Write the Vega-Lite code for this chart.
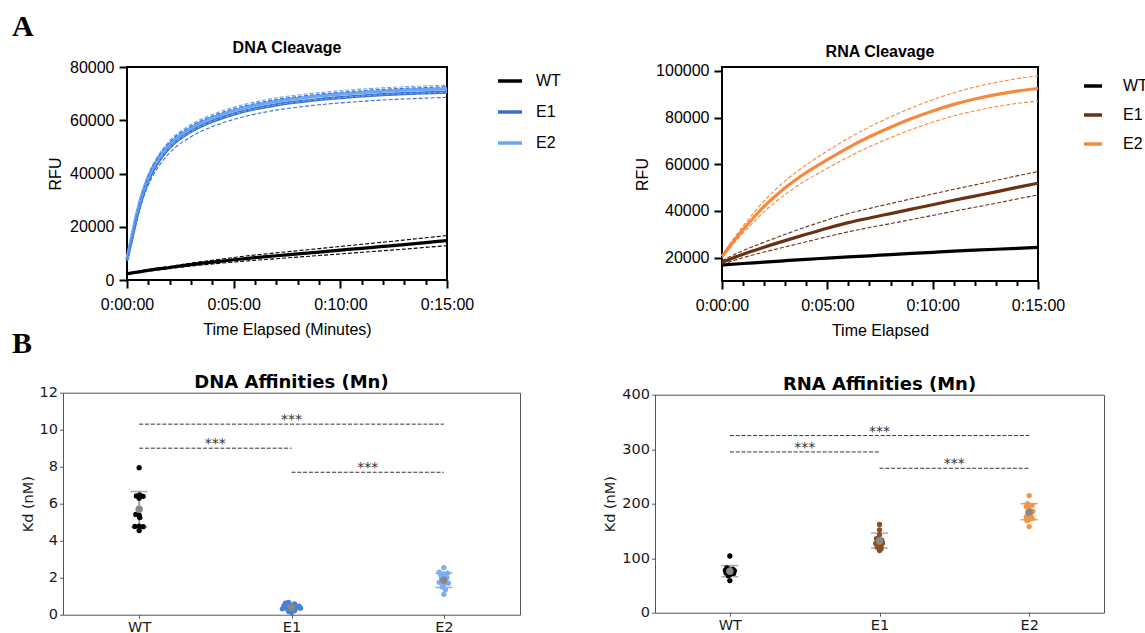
{
  "$schema": "https://vega.github.io/schema/vega-lite/v6.json",
  "background": "white",
  "padding": {"left": 12, "top": 12, "right": 0, "bottom": 0},
  "bounds": "flush",
  "spacing": 325.7,
  "resolve": {"scale": {"color": "independent"}, "legend": {"color": "independent"}},
  "config": {
    "view": {"stroke": null},
    "axis": {"grid": false, "domain": false, "labelOverlap": false, "labelSeparation": 0},
    "title": {"color": "black"}
  },
  "datasets": {
    "dnaCurves": [
      {"series":"WT","t":0,"mean":2300,"lo":2150,"hi":2450},
      {"series":"WT","t":1,"mean":3600,"lo":3320,"hi":3880},
      {"series":"WT","t":2,"mean":4700,"lo":4300,"hi":5100},
      {"series":"WT","t":3,"mean":5800,"lo":5250,"hi":6350},
      {"series":"WT","t":4,"mean":6700,"lo":6000,"hi":7400},
      {"series":"WT","t":5,"mean":7600,"lo":6750,"hi":8450},
      {"series":"WT","t":6,"mean":8400,"lo":7400,"hi":9400},
      {"series":"WT","t":7,"mean":9100,"lo":8000,"hi":10200},
      {"series":"WT","t":8,"mean":9800,"lo":8600,"hi":11000},
      {"series":"WT","t":9,"mean":10500,"lo":9200,"hi":11800},
      {"series":"WT","t":10,"mean":11200,"lo":9800,"hi":12600},
      {"series":"WT","t":11,"mean":11900,"lo":10400,"hi":13400},
      {"series":"WT","t":12,"mean":12600,"lo":11000,"hi":14200},
      {"series":"WT","t":13,"mean":13300,"lo":11600,"hi":15000},
      {"series":"WT","t":14,"mean":14050,"lo":12250,"hi":15850},
      {"series":"WT","t":15,"mean":14800,"lo":12900,"hi":16700},
      {"series":"E1","t":0,"mean":7500,"lo":6900,"hi":8100},
      {"series":"E1","t":0.25,"mean":16300,"lo":15400,"hi":17200},
      {"series":"E1","t":0.5,"mean":25000,"lo":23800,"hi":26200},
      {"series":"E1","t":0.75,"mean":32000,"lo":30500,"hi":33500},
      {"series":"E1","t":1,"mean":37400,"lo":35700,"hi":39100},
      {"series":"E1","t":1.5,"mean":44800,"lo":42900,"hi":46700},
      {"series":"E1","t":2,"mean":49800,"lo":47800,"hi":51800},
      {"series":"E1","t":3,"mean":55800,"lo":53800,"hi":57800},
      {"series":"E1","t":4,"mean":59600,"lo":57600,"hi":61600},
      {"series":"E1","t":5,"mean":62300,"lo":60300,"hi":64300},
      {"series":"E1","t":6,"mean":64300,"lo":62300,"hi":66300},
      {"series":"E1","t":7,"mean":65800,"lo":63800,"hi":67800},
      {"series":"E1","t":8,"mean":66900,"lo":64900,"hi":68900},
      {"series":"E1","t":9,"mean":67800,"lo":65800,"hi":69800},
      {"series":"E1","t":10,"mean":68500,"lo":66500,"hi":70500},
      {"series":"E1","t":11,"mean":69100,"lo":67100,"hi":71100},
      {"series":"E1","t":12,"mean":69600,"lo":67600,"hi":71600},
      {"series":"E1","t":13,"mean":70000,"lo":68000,"hi":72000},
      {"series":"E1","t":14,"mean":70300,"lo":68300,"hi":72300},
      {"series":"E1","t":15,"mean":70600,"lo":68600,"hi":72600},
      {"series":"E2","t":0,"mean":8000,"lo":7500,"hi":8500},
      {"series":"E2","t":0.25,"mean":17300,"lo":16600,"hi":18000},
      {"series":"E2","t":0.5,"mean":26300,"lo":25400,"hi":27200},
      {"series":"E2","t":0.75,"mean":33300,"lo":32300,"hi":34300},
      {"series":"E2","t":1,"mean":38700,"lo":37600,"hi":39800},
      {"series":"E2","t":1.5,"mean":46100,"lo":44900,"hi":47300},
      {"series":"E2","t":2,"mean":51100,"lo":49800,"hi":52400},
      {"series":"E2","t":3,"mean":57100,"lo":55800,"hi":58400},
      {"series":"E2","t":4,"mean":60900,"lo":59600,"hi":62200},
      {"series":"E2","t":5,"mean":63600,"lo":62300,"hi":64900},
      {"series":"E2","t":6,"mean":65600,"lo":64300,"hi":66900},
      {"series":"E2","t":7,"mean":67100,"lo":65800,"hi":68400},
      {"series":"E2","t":8,"mean":68200,"lo":66900,"hi":69500},
      {"series":"E2","t":9,"mean":69100,"lo":67800,"hi":70400},
      {"series":"E2","t":10,"mean":69800,"lo":68500,"hi":71100},
      {"series":"E2","t":11,"mean":70400,"lo":69100,"hi":71700},
      {"series":"E2","t":12,"mean":70900,"lo":69600,"hi":72200},
      {"series":"E2","t":13,"mean":71300,"lo":70000,"hi":72600},
      {"series":"E2","t":14,"mean":71600,"lo":70300,"hi":72900},
      {"series":"E2","t":15,"mean":71800,"lo":70500,"hi":73100}
    ],
    "rnaCurves": [
      {"series":"WT","t":0,"mean":16900},
      {"series":"WT","t":1,"mean":17500},
      {"series":"WT","t":2,"mean":18100},
      {"series":"WT","t":3,"mean":18700},
      {"series":"WT","t":4,"mean":19300},
      {"series":"WT","t":5,"mean":19800},
      {"series":"WT","t":6,"mean":20300},
      {"series":"WT","t":7,"mean":20800},
      {"series":"WT","t":8,"mean":21300},
      {"series":"WT","t":9,"mean":21800},
      {"series":"WT","t":10,"mean":22300},
      {"series":"WT","t":11,"mean":22800},
      {"series":"WT","t":12,"mean":23200},
      {"series":"WT","t":13,"mean":23600},
      {"series":"WT","t":14,"mean":24000},
      {"series":"WT","t":15,"mean":24400},
      {"series":"E1","t":0,"mean":18000,"lo":17200,"hi":18800},
      {"series":"E1","t":1,"mean":21500,"lo":20000,"hi":23000},
      {"series":"E1","t":2,"mean":24500,"lo":22400,"hi":26600},
      {"series":"E1","t":3,"mean":27300,"lo":24600,"hi":30000},
      {"series":"E1","t":4,"mean":30000,"lo":26800,"hi":33200},
      {"series":"E1","t":5,"mean":32600,"lo":29000,"hi":36200},
      {"series":"E1","t":6,"mean":35000,"lo":31100,"hi":38900},
      {"series":"E1","t":7,"mean":37000,"lo":32900,"hi":41100},
      {"series":"E1","t":8,"mean":38900,"lo":34600,"hi":43200},
      {"series":"E1","t":9,"mean":40800,"lo":36350,"hi":45250},
      {"series":"E1","t":10,"mean":42700,"lo":38100,"hi":47300},
      {"series":"E1","t":11,"mean":44600,"lo":39900,"hi":49300},
      {"series":"E1","t":12,"mean":46400,"lo":41600,"hi":51200},
      {"series":"E1","t":13,"mean":48200,"lo":43300,"hi":53100},
      {"series":"E1","t":14,"mean":50100,"lo":45150,"hi":55050},
      {"series":"E1","t":15,"mean":51900,"lo":46900,"hi":56900},
      {"series":"E2","t":0,"mean":20500,"lo":20000,"hi":21000},
      {"series":"E2","t":0.5,"mean":26500,"lo":25500,"hi":27500},
      {"series":"E2","t":1,"mean":32000,"lo":30500,"hi":33500},
      {"series":"E2","t":2,"mean":42000,"lo":39700,"hi":44300},
      {"series":"E2","t":3,"mean":50000,"lo":47100,"hi":52900},
      {"series":"E2","t":4,"mean":56500,"lo":53200,"hi":59800},
      {"series":"E2","t":5,"mean":62000,"lo":58300,"hi":65700},
      {"series":"E2","t":6,"mean":67200,"lo":63200,"hi":71200},
      {"series":"E2","t":7,"mean":71800,"lo":67550,"hi":76050},
      {"series":"E2","t":8,"mean":75900,"lo":71450,"hi":80350},
      {"series":"E2","t":9,"mean":79600,"lo":74950,"hi":84250},
      {"series":"E2","t":10,"mean":82900,"lo":78100,"hi":87700},
      {"series":"E2","t":11,"mean":85700,"lo":80750,"hi":90650},
      {"series":"E2","t":12,"mean":88000,"lo":82900,"hi":93100},
      {"series":"E2","t":13,"mean":89900,"lo":84700,"hi":95100},
      {"series":"E2","t":14,"mean":91400,"lo":86100,"hi":96700},
      {"series":"E2","t":15,"mean":92500,"lo":87100,"hi":97900}
    ],
    "dnaPts": [
      {"g":"WT","p":0.0,"v":7.95},{"g":"WT","p":-0.018,"v":6.42},{"g":"WT","p":0.004,"v":6.47},{"g":"WT","p":0.026,"v":6.40},
      {"g":"WT","p":0.0,"v":6.30},{"g":"WT","p":-0.022,"v":5.42},{"g":"WT","p":0.0,"v":5.38},{"g":"WT","p":0.004,"v":5.25},
      {"g":"WT","p":-0.028,"v":4.77},{"g":"WT","p":0.0,"v":4.78},{"g":"WT","p":0.026,"v":4.76},{"g":"WT","p":0.0,"v":4.55},
      {"g":"E1","p":0.96,"v":0.62},{"g":"E1","p":0.98,"v":0.66},{"g":"E1","p":1.02,"v":0.58},{"g":"E1","p":1.05,"v":0.45},
      {"g":"E1","p":0.95,"v":0.48},{"g":"E1","p":1.0,"v":0.52},{"g":"E1","p":0.97,"v":0.38},{"g":"E1","p":1.03,"v":0.40},
      {"g":"E1","p":1.06,"v":0.36},{"g":"E1","p":0.94,"v":0.32},{"g":"E1","p":1.0,"v":0.30},{"g":"E1","p":1.02,"v":0.22},
      {"g":"E1","p":0.98,"v":0.18},{"g":"E1","p":1.0,"v":0.12},
      {"g":"E2","p":2.0,"v":2.55},{"g":"E2","p":1.97,"v":2.30},{"g":"E2","p":2.025,"v":2.25},{"g":"E2","p":2.0,"v":2.20},
      {"g":"E2","p":1.98,"v":2.15},{"g":"E2","p":2.02,"v":2.00},{"g":"E2","p":1.985,"v":1.95},{"g":"E2","p":2.0,"v":1.80},
      {"g":"E2","p":1.97,"v":1.75},{"g":"E2","p":2.03,"v":1.70},{"g":"E2","p":2.0,"v":1.65},{"g":"E2","p":1.99,"v":1.50},
      {"g":"E2","p":2.01,"v":1.35},{"g":"E2","p":2.0,"v":1.10}
    ],
    "dnaSum": [
      {"g":"WT","p":0,"mean":5.70,"lo":4.75,"hi":6.66},
      {"g":"E1","p":1,"mean":0.40,"lo":0.25,"hi":0.56},
      {"g":"E2","p":2,"mean":1.86,"lo":1.47,"hi":2.25}
    ],
    "dnaSig": [
      {"x1":0,"x2":1,"xm":0.5,"y":9.0,"label":"***"},
      {"x1":0,"x2":2,"xm":1,"y":10.3,"label":"***"},
      {"x1":1,"x2":2,"xm":1.5,"y":7.7,"label":"***"}
    ],
    "rnaPts": [
      {"g":"WT","p":0.0,"v":104},{"g":"WT","p":-0.02,"v":82},{"g":"WT","p":0.02,"v":80},{"g":"WT","p":-0.03,"v":78},
      {"g":"WT","p":0.03,"v":77},{"g":"WT","p":0.0,"v":76},{"g":"WT","p":-0.015,"v":75},{"g":"WT","p":0.015,"v":74},
      {"g":"WT","p":-0.025,"v":73},{"g":"WT","p":0.025,"v":72},{"g":"WT","p":0.0,"v":70},{"g":"WT","p":-0.01,"v":68},
      {"g":"WT","p":0.0,"v":59},
      {"g":"E1","p":1.0,"v":162},{"g":"E1","p":1.0,"v":152},{"g":"E1","p":1.0,"v":143},{"g":"E1","p":0.98,"v":136},
      {"g":"E1","p":1.015,"v":133},{"g":"E1","p":0.99,"v":130},{"g":"E1","p":1.02,"v":128},{"g":"E1","p":0.975,"v":127},
      {"g":"E1","p":1.0,"v":125},{"g":"E1","p":1.01,"v":122},{"g":"E1","p":0.985,"v":120},{"g":"E1","p":1.01,"v":117},
      {"g":"E1","p":1.0,"v":114},
      {"g":"E2","p":2.0,"v":215},{"g":"E2","p":1.99,"v":200},{"g":"E2","p":2.02,"v":197},{"g":"E2","p":1.98,"v":195},
      {"g":"E2","p":2.0,"v":190},{"g":"E2","p":2.025,"v":186},{"g":"E2","p":1.99,"v":183},{"g":"E2","p":2.01,"v":180},
      {"g":"E2","p":1.98,"v":176},{"g":"E2","p":2.02,"v":173},{"g":"E2","p":2.0,"v":171},{"g":"E2","p":1.985,"v":169},
      {"g":"E2","p":2.0,"v":158}
    ],
    "rnaSum": [
      {"g":"WT","p":0,"mean":76,"lo":66,"hi":86.5},
      {"g":"E1","p":1,"mean":131.5,"lo":118.7,"hi":146},
      {"g":"E2","p":2,"mean":184.5,"lo":170.5,"hi":200}
    ],
    "rnaSig": [
      {"x1":0,"x2":1,"xm":0.5,"y":295,"label":"***"},
      {"x1":0,"x2":2,"xm":1,"y":325,"label":"***"},
      {"x1":1,"x2":2,"xm":1.5,"y":265,"label":"***"}
    ]
  },
  "vconcat": [
    {
      "bounds": "flush",
      "spacing": 0,
      "resolve": {"scale": {"color": "independent"}, "legend": {"color": "independent"}},
      "hconcat": [
        {
          "width": 115, "height": 213,
          "title": {"text": "A", "anchor": "start", "frame": "group", "offset": 1, "baseline": "alphabetic", "font": "Liberation Serif", "fontSize": 30, "fontWeight": "bold", "color": "black"},
          "data": {"values": [{"s": ""}]},
          "mark": {"type": "text", "text": ""},
          "encoding": {}
        },
        {
          "width": 320, "height": 213,
          "view": {"stroke": "black", "strokeWidth": 2},
          "title": {"text": "DNA Cleavage", "anchor": "middle", "frame": "group", "offset": -10.4, "baseline": "alphabetic", "font": "Liberation Sans", "fontSize": 16, "fontWeight": "bold", "color": "black"},
          "data": {"name": "dnaCurves"},
          "encoding": {
            "x": {"field": "t", "type": "quantitative", "scale": {"domain": [0, 15], "nice": false, "zero": false},
              "axis": {"values": [0,1,2,3,4,5,6,7,8,9,10,11,12,13,14,15],
                "labelExpr": "datum.value % 5 === 0 ? '0:' + (datum.value < 10 ? '0' : '') + datum.value + ':00' : ''",
                "title": "Time Elapsed (Minutes)",
                "tickSize": {"condition": {"test": "datum.value % 5 === 0", "value": 8}, "value": 4.5},
                "tickWidth": 2, "tickColor": "black", "domain": false, "grid": false,
                "labelFont": "Liberation Sans", "labelFontSize": 16, "labelColor": "black", "labelPadding": 8,
                "labelOverlap": false, "labelFlush": false,
                "titleFont": "Liberation Sans", "titleFontSize": 16, "titleFontWeight": "normal", "titleColor": "black", "titlePadding": 9}},
            "color": {"field": "series", "type": "nominal", "sort": ["WT", "E1", "E2"], "scale": {"domain": ["WT", "E1", "E2"], "range": ["#000000", "#3a6fd0", "#6aa6f6"]},
              "legend": {"orient": "none", "legendX": 369, "legendY": 0, "title": null, "symbolType": "stroke", "symbolSize": 576, "symbolStrokeWidth": 3.5, "symbolDash": [1, 0],
                "labelFont": "Liberation Sans", "labelFontSize": 16, "labelColor": "black", "labelOffset": 12, "rowPadding": 9, "padding": 0, "labelLimit": 0}}
          },
          "layer": [
            {
              "mark": {"type": "line", "strokeWidth": 3.2, "interpolate": "monotone"},
              "encoding": {
                "y": {"field": "mean", "type": "quantitative", "scale": {"domain": [0, 80000], "nice": false},
                  "axis": {"values": [0, 20000, 40000, 60000, 80000], "format": "d", "title": "RFU",
                    "tickSize": 8, "tickWidth": 2, "tickColor": "black", "domain": false, "grid": false, "labelOverlap": false,
                    "labelFont": "Liberation Sans", "labelFontSize": 16, "labelColor": "black", "labelPadding": 5,
                    "titleFont": "Liberation Sans", "titleFontSize": 16, "titleFontWeight": "normal", "titleColor": "black", "titlePadding": 6}}
              }
            },
            {
              "mark": {"type": "line", "strokeWidth": 1.1, "strokeDash": [4, 2], "interpolate": "monotone"},
              "encoding": {
                "y": {"field": "lo", "type": "quantitative", "scale": {"domain": [0, 80000], "nice": false}}
              }
            },
            {
              "mark": {"type": "line", "strokeWidth": 1.1, "strokeDash": [4, 2], "interpolate": "monotone"},
              "encoding": {
                "y": {"field": "hi", "type": "quantitative", "scale": {"domain": [0, 80000], "nice": false}}
              }
            }
          ]
        },
        {
          "width": 275, "height": 213,
          "data": {"values": [{"s": ""}]},
          "mark": {"type": "text", "text": ""},
          "encoding": {}
        },
        {
          "width": 316, "height": 214,
          "view": {"stroke": "black", "strokeWidth": 2},
          "title": {"text": "RNA Cleavage", "anchor": "middle", "frame": "group", "offset": -10.4, "baseline": "alphabetic", "font": "Liberation Sans", "fontSize": 16, "fontWeight": "bold", "color": "black"},
          "data": {"name": "rnaCurves"},
          "encoding": {
            "x": {"field": "t", "type": "quantitative", "scale": {"domain": [0, 15], "nice": false, "zero": false},
              "axis": {"values": [0,1,2,3,4,5,6,7,8,9,10,11,12,13,14,15],
                "labelExpr": "datum.value % 5 === 0 ? '0:' + (datum.value < 10 ? '0' : '') + datum.value + ':00' : ''",
                "title": "Time Elapsed",
                "tickSize": {"condition": {"test": "datum.value % 5 === 0", "value": 8}, "value": 4.5},
                "tickWidth": 2, "tickColor": "black", "domain": false, "grid": false,
                "labelFont": "Liberation Sans", "labelFontSize": 16, "labelColor": "black", "labelPadding": 8,
                "labelOverlap": false, "labelFlush": false,
                "titleFont": "Liberation Sans", "titleFontSize": 16, "titleFontWeight": "normal", "titleColor": "black", "titlePadding": 9}},
            "color": {"field": "series", "type": "nominal", "sort": ["WT", "E1", "E2"], "scale": {"domain": ["WT", "E1", "E2"], "range": ["#000000", "#6a3214", "#f7883e"]},
              "legend": {"orient": "none", "legendX": 360, "legendY": 8, "title": null, "symbolType": "stroke", "symbolSize": 324, "symbolStrokeWidth": 3.5, "symbolDash": [1, 0],
                "labelFont": "Liberation Sans", "labelFontSize": 16, "labelColor": "black", "labelOffset": 19, "rowPadding": 10, "padding": 0, "labelLimit": 0}}
          },
          "layer": [
            {
              "mark": {"type": "line", "strokeWidth": 3.2, "interpolate": "monotone"},
              "encoding": {
                "y": {"field": "mean", "type": "quantitative", "scale": {"domain": [10000, 101714], "nice": false, "zero": false},
                  "axis": {"values": [20000, 40000, 60000, 80000, 100000], "format": "d", "title": "RFU",
                    "tickSize": 8, "tickWidth": 2, "tickColor": "black", "domain": false, "grid": false, "labelOverlap": false,
                    "labelFont": "Liberation Sans", "labelFontSize": 16, "labelColor": "black", "labelPadding": 5,
                    "titleFont": "Liberation Sans", "titleFontSize": 16, "titleFontWeight": "normal", "titleColor": "black", "titlePadding": 5}}
              }
            },
            {
              "mark": {"type": "line", "strokeWidth": 1.1, "strokeDash": [4, 2], "interpolate": "monotone"},
              "encoding": {
                "y": {"field": "lo", "type": "quantitative", "scale": {"domain": [10000, 101714], "nice": false, "zero": false}}
              }
            },
            {
              "mark": {"type": "line", "strokeWidth": 1.1, "strokeDash": [4, 2], "interpolate": "monotone"},
              "encoding": {
                "y": {"field": "hi", "type": "quantitative", "scale": {"domain": [10000, 101714], "nice": false, "zero": false}}
              }
            }
          ]
        }
      ]
    },
    {
      "bounds": "flush",
      "spacing": 0,
      "center": true,
      "resolve": {"scale": {"color": "independent"}, "legend": {"color": "independent"}},
      "hconcat": [
        {
          "width": 51, "height": 222,
          "title": {"text": "B", "anchor": "start", "frame": "group", "offset": 9.4, "baseline": "alphabetic", "font": "Liberation Serif", "fontSize": 30, "fontWeight": "bold", "color": "black"},
          "data": {"values": [{"s": ""}]},
          "mark": {"type": "text", "text": ""},
          "encoding": {}
        },
        {
          "width": 457, "height": 222,
          "view": {"stroke": "#555555", "strokeWidth": 1},
          "title": {"text": "DNA Affinities (Mn)", "anchor": "middle", "frame": "group", "offset": -20.85, "baseline": "alphabetic", "font": "DejaVu Sans", "fontSize": 18, "fontWeight": "bold", "color": "black"},
          "layer": [
            {
              "data": {"name": "dnaSig"},
              "mark": {"type": "rule", "strokeDash": [4, 1.8], "strokeWidth": 1, "color": "#333333"},
              "encoding": {
                "x": {"field": "x1", "type": "quantitative", "scale": {"domain": [-0.5, 2.5], "nice": false, "zero": false},
                  "axis": {"values": [0, 1, 2], "labelExpr": "datum.value === 0 ? 'WT' : datum.value === 1 ? 'E1' : 'E2'", "title": null, "tickSize": 3.5, "tickWidth": 0.8, "tickColor": "#333333", "domain": false, "grid": false, "labelOverlap": false, "labelFont": "DejaVu Sans", "labelFontSize": 14.5, "labelColor": "#1a1a1a", "labelPadding": 2}},
                "x2": {"field": "x2"},
                "y": {"field": "y", "type": "quantitative", "scale": {"domain": [0, 12], "nice": false, "zero": false},
                  "axis": {"values": [0, 2, 4, 6, 8, 10, 12], "title": "Kd (nM)", "tickSize": 3.5, "tickWidth": 0.8, "tickColor": "#333333", "domain": false, "grid": false, "labelOverlap": false, "labelFont": "DejaVu Sans", "labelFontSize": 14.5, "labelColor": "#1a1a1a", "labelPadding": 2, "titleFont": "DejaVu Sans", "titleFontSize": 14.5, "titleFontWeight": "normal", "titleColor": "#1a1a1a", "titlePadding": 4}}
              }
            },
            {
              "data": {"name": "dnaSig"},
              "mark": {"type": "text", "font": "DejaVu Sans", "fontSize": 14, "baseline": "alphabetic", "color": "#333333"},
              "encoding": {
                "x": {"field": "xm", "type": "quantitative", "scale": {"domain": [-0.5, 2.5], "nice": false, "zero": false},
                  "axis": {"values": [0, 1, 2], "labelExpr": "datum.value === 0 ? 'WT' : datum.value === 1 ? 'E1' : 'E2'", "title": null, "tickSize": 3.5, "tickWidth": 0.8, "tickColor": "#333333", "domain": false, "grid": false, "labelOverlap": false, "labelFont": "DejaVu Sans", "labelFontSize": 14.5, "labelColor": "#1a1a1a", "labelPadding": 2}},
                "y": {"field": "y", "type": "quantitative", "scale": {"domain": [0, 12], "nice": false, "zero": false},
                  "axis": {"values": [0, 2, 4, 6, 8, 10, 12], "title": "Kd (nM)", "tickSize": 3.5, "tickWidth": 0.8, "tickColor": "#333333", "domain": false, "grid": false, "labelOverlap": false, "labelFont": "DejaVu Sans", "labelFontSize": 14.5, "labelColor": "#1a1a1a", "labelPadding": 2, "titleFont": "DejaVu Sans", "titleFontSize": 14.5, "titleFontWeight": "normal", "titleColor": "#1a1a1a", "titlePadding": 4}},
                "text": {"field": "label"}
              }
            },
            {
              "data": {"name": "dnaSum"},
              "mark": {"type": "rule", "color": "#888888", "strokeWidth": 1.5},
              "encoding": {
                "x": {"field": "p", "type": "quantitative", "scale": {"domain": [-0.5, 2.5], "nice": false, "zero": false},
                  "axis": {"values": [0, 1, 2], "labelExpr": "datum.value === 0 ? 'WT' : datum.value === 1 ? 'E1' : 'E2'", "title": null, "tickSize": 3.5, "tickWidth": 0.8, "tickColor": "#333333", "domain": false, "grid": false, "labelOverlap": false, "labelFont": "DejaVu Sans", "labelFontSize": 14.5, "labelColor": "#1a1a1a", "labelPadding": 2}},
                "y": {"field": "lo", "type": "quantitative", "scale": {"domain": [0, 12], "nice": false, "zero": false},
                  "axis": {"values": [0, 2, 4, 6, 8, 10, 12], "title": "Kd (nM)", "tickSize": 3.5, "tickWidth": 0.8, "tickColor": "#333333", "domain": false, "grid": false, "labelOverlap": false, "labelFont": "DejaVu Sans", "labelFontSize": 14.5, "labelColor": "#1a1a1a", "labelPadding": 2, "titleFont": "DejaVu Sans", "titleFontSize": 14.5, "titleFontWeight": "normal", "titleColor": "#1a1a1a", "titlePadding": 4}},
                "y2": {"field": "hi"}
              }
            },
            {
              "data": {"name": "dnaSum"},
              "mark": {"type": "tick", "orient": "horizontal", "color": "#888888", "size": 17, "thickness": 1.5},
              "encoding": {
                "x": {"field": "p", "type": "quantitative", "scale": {"domain": [-0.5, 2.5], "nice": false, "zero": false},
                  "axis": {"values": [0, 1, 2], "labelExpr": "datum.value === 0 ? 'WT' : datum.value === 1 ? 'E1' : 'E2'", "title": null, "tickSize": 3.5, "tickWidth": 0.8, "tickColor": "#333333", "domain": false, "grid": false, "labelOverlap": false, "labelFont": "DejaVu Sans", "labelFontSize": 14.5, "labelColor": "#1a1a1a", "labelPadding": 2}},
                "y": {"field": "lo", "type": "quantitative", "scale": {"domain": [0, 12], "nice": false, "zero": false},
                  "axis": {"values": [0, 2, 4, 6, 8, 10, 12], "title": "Kd (nM)", "tickSize": 3.5, "tickWidth": 0.8, "tickColor": "#333333", "domain": false, "grid": false, "labelOverlap": false, "labelFont": "DejaVu Sans", "labelFontSize": 14.5, "labelColor": "#1a1a1a", "labelPadding": 2, "titleFont": "DejaVu Sans", "titleFontSize": 14.5, "titleFontWeight": "normal", "titleColor": "#1a1a1a", "titlePadding": 4}}
              }
            },
            {
              "data": {"name": "dnaSum"},
              "mark": {"type": "tick", "orient": "horizontal", "color": "#888888", "size": 17, "thickness": 1.5},
              "encoding": {
                "x": {"field": "p", "type": "quantitative", "scale": {"domain": [-0.5, 2.5], "nice": false, "zero": false},
                  "axis": {"values": [0, 1, 2], "labelExpr": "datum.value === 0 ? 'WT' : datum.value === 1 ? 'E1' : 'E2'", "title": null, "tickSize": 3.5, "tickWidth": 0.8, "tickColor": "#333333", "domain": false, "grid": false, "labelOverlap": false, "labelFont": "DejaVu Sans", "labelFontSize": 14.5, "labelColor": "#1a1a1a", "labelPadding": 2}},
                "y": {"field": "hi", "type": "quantitative", "scale": {"domain": [0, 12], "nice": false, "zero": false},
                  "axis": {"values": [0, 2, 4, 6, 8, 10, 12], "title": "Kd (nM)", "tickSize": 3.5, "tickWidth": 0.8, "tickColor": "#333333", "domain": false, "grid": false, "labelOverlap": false, "labelFont": "DejaVu Sans", "labelFontSize": 14.5, "labelColor": "#1a1a1a", "labelPadding": 2, "titleFont": "DejaVu Sans", "titleFontSize": 14.5, "titleFontWeight": "normal", "titleColor": "#1a1a1a", "titlePadding": 4}}
              }
            },
            {
              "data": {"name": "dnaPts"},
              "mark": {"type": "circle", "size": 28, "opacity": 1},
              "encoding": {
                "x": {"field": "p", "type": "quantitative", "scale": {"domain": [-0.5, 2.5], "nice": false, "zero": false},
                  "axis": {"values": [0, 1, 2], "labelExpr": "datum.value === 0 ? 'WT' : datum.value === 1 ? 'E1' : 'E2'", "title": null, "tickSize": 3.5, "tickWidth": 0.8, "tickColor": "#333333", "domain": false, "grid": false, "labelOverlap": false, "labelFont": "DejaVu Sans", "labelFontSize": 14.5, "labelColor": "#1a1a1a", "labelPadding": 2}},
                "y": {"field": "v", "type": "quantitative", "scale": {"domain": [0, 12], "nice": false, "zero": false},
                  "axis": {"values": [0, 2, 4, 6, 8, 10, 12], "title": "Kd (nM)", "tickSize": 3.5, "tickWidth": 0.8, "tickColor": "#333333", "domain": false, "grid": false, "labelOverlap": false, "labelFont": "DejaVu Sans", "labelFontSize": 14.5, "labelColor": "#1a1a1a", "labelPadding": 2, "titleFont": "DejaVu Sans", "titleFontSize": 14.5, "titleFontWeight": "normal", "titleColor": "#1a1a1a", "titlePadding": 4}},
                "color": {"field": "g", "type": "nominal", "scale": {"domain": ["WT", "E1", "E2"], "range": ["#000000", "#4a7fd6", "#7aaef5"]}, "legend": null}
              }
            },
            {
              "data": {"name": "dnaSum"},
              "mark": {"type": "circle", "size": 55, "opacity": 1, "color": "#888888"},
              "encoding": {
                "x": {"field": "p", "type": "quantitative", "scale": {"domain": [-0.5, 2.5], "nice": false, "zero": false},
                  "axis": {"values": [0, 1, 2], "labelExpr": "datum.value === 0 ? 'WT' : datum.value === 1 ? 'E1' : 'E2'", "title": null, "tickSize": 3.5, "tickWidth": 0.8, "tickColor": "#333333", "domain": false, "grid": false, "labelOverlap": false, "labelFont": "DejaVu Sans", "labelFontSize": 14.5, "labelColor": "#1a1a1a", "labelPadding": 2}},
                "y": {"field": "mean", "type": "quantitative", "scale": {"domain": [0, 12], "nice": false, "zero": false},
                  "axis": {"values": [0, 2, 4, 6, 8, 10, 12], "title": "Kd (nM)", "tickSize": 3.5, "tickWidth": 0.8, "tickColor": "#333333", "domain": false, "grid": false, "labelOverlap": false, "labelFont": "DejaVu Sans", "labelFontSize": 14.5, "labelColor": "#1a1a1a", "labelPadding": 2, "titleFont": "DejaVu Sans", "titleFontSize": 14.5, "titleFontWeight": "normal", "titleColor": "#1a1a1a", "titlePadding": 4}}
              }
            }
          ]
        },
        {
          "width": 135, "height": 222,
          "data": {"values": [{"s": ""}]},
          "mark": {"type": "text", "text": ""},
          "encoding": {}
        },
        {
          "width": 449, "height": 218,
          "view": {"stroke": "#555555", "strokeWidth": 1},
          "title": {"text": "RNA Affinities (Mn)", "anchor": "middle", "frame": "group", "offset": -21.15, "baseline": "alphabetic", "font": "DejaVu Sans", "fontSize": 18, "fontWeight": "bold", "color": "black"},
          "layer": [
            {
              "data": {"name": "rnaSig"},
              "mark": {"type": "rule", "strokeDash": [4, 1.8], "strokeWidth": 1, "color": "#333333"},
              "encoding": {
                "x": {"field": "x1", "type": "quantitative", "scale": {"domain": [-0.5, 2.5], "nice": false, "zero": false},
                  "axis": {"values": [0, 1, 2], "labelExpr": "datum.value === 0 ? 'WT' : datum.value === 1 ? 'E1' : 'E2'", "title": null, "tickSize": 3.5, "tickWidth": 0.8, "tickColor": "#333333", "domain": false, "grid": false, "labelOverlap": false, "labelFont": "DejaVu Sans", "labelFontSize": 14.5, "labelColor": "#1a1a1a", "labelPadding": 2}},
                "x2": {"field": "x2"},
                "y": {"field": "y", "type": "quantitative", "scale": {"domain": [0, 400], "nice": false, "zero": false},
                  "axis": {"values": [0, 100, 200, 300, 400], "title": "Kd (nM)", "tickSize": 3.5, "tickWidth": 0.8, "tickColor": "#333333", "domain": false, "grid": false, "labelOverlap": false, "labelFont": "DejaVu Sans", "labelFontSize": 14.5, "labelColor": "#1a1a1a", "labelPadding": 2, "titleFont": "DejaVu Sans", "titleFontSize": 14.5, "titleFontWeight": "normal", "titleColor": "#1a1a1a", "titlePadding": 4}}
              }
            },
            {
              "data": {"name": "rnaSig"},
              "mark": {"type": "text", "font": "DejaVu Sans", "fontSize": 14, "baseline": "alphabetic", "color": "#333333"},
              "encoding": {
                "x": {"field": "xm", "type": "quantitative", "scale": {"domain": [-0.5, 2.5], "nice": false, "zero": false},
                  "axis": {"values": [0, 1, 2], "labelExpr": "datum.value === 0 ? 'WT' : datum.value === 1 ? 'E1' : 'E2'", "title": null, "tickSize": 3.5, "tickWidth": 0.8, "tickColor": "#333333", "domain": false, "grid": false, "labelOverlap": false, "labelFont": "DejaVu Sans", "labelFontSize": 14.5, "labelColor": "#1a1a1a", "labelPadding": 2}},
                "y": {"field": "y", "type": "quantitative", "scale": {"domain": [0, 400], "nice": false, "zero": false},
                  "axis": {"values": [0, 100, 200, 300, 400], "title": "Kd (nM)", "tickSize": 3.5, "tickWidth": 0.8, "tickColor": "#333333", "domain": false, "grid": false, "labelOverlap": false, "labelFont": "DejaVu Sans", "labelFontSize": 14.5, "labelColor": "#1a1a1a", "labelPadding": 2, "titleFont": "DejaVu Sans", "titleFontSize": 14.5, "titleFontWeight": "normal", "titleColor": "#1a1a1a", "titlePadding": 4}},
                "text": {"field": "label"}
              }
            },
            {
              "data": {"name": "rnaSum"},
              "mark": {"type": "rule", "color": "#888888", "strokeWidth": 1.5},
              "encoding": {
                "x": {"field": "p", "type": "quantitative", "scale": {"domain": [-0.5, 2.5], "nice": false, "zero": false},
                  "axis": {"values": [0, 1, 2], "labelExpr": "datum.value === 0 ? 'WT' : datum.value === 1 ? 'E1' : 'E2'", "title": null, "tickSize": 3.5, "tickWidth": 0.8, "tickColor": "#333333", "domain": false, "grid": false, "labelOverlap": false, "labelFont": "DejaVu Sans", "labelFontSize": 14.5, "labelColor": "#1a1a1a", "labelPadding": 2}},
                "y": {"field": "lo", "type": "quantitative", "scale": {"domain": [0, 400], "nice": false, "zero": false},
                  "axis": {"values": [0, 100, 200, 300, 400], "title": "Kd (nM)", "tickSize": 3.5, "tickWidth": 0.8, "tickColor": "#333333", "domain": false, "grid": false, "labelOverlap": false, "labelFont": "DejaVu Sans", "labelFontSize": 14.5, "labelColor": "#1a1a1a", "labelPadding": 2, "titleFont": "DejaVu Sans", "titleFontSize": 14.5, "titleFontWeight": "normal", "titleColor": "#1a1a1a", "titlePadding": 4}},
                "y2": {"field": "hi"}
              }
            },
            {
              "data": {"name": "rnaSum"},
              "mark": {"type": "tick", "orient": "horizontal", "color": "#888888", "size": 17, "thickness": 1.5},
              "encoding": {
                "x": {"field": "p", "type": "quantitative", "scale": {"domain": [-0.5, 2.5], "nice": false, "zero": false},
                  "axis": {"values": [0, 1, 2], "labelExpr": "datum.value === 0 ? 'WT' : datum.value === 1 ? 'E1' : 'E2'", "title": null, "tickSize": 3.5, "tickWidth": 0.8, "tickColor": "#333333", "domain": false, "grid": false, "labelOverlap": false, "labelFont": "DejaVu Sans", "labelFontSize": 14.5, "labelColor": "#1a1a1a", "labelPadding": 2}},
                "y": {"field": "lo", "type": "quantitative", "scale": {"domain": [0, 400], "nice": false, "zero": false},
                  "axis": {"values": [0, 100, 200, 300, 400], "title": "Kd (nM)", "tickSize": 3.5, "tickWidth": 0.8, "tickColor": "#333333", "domain": false, "grid": false, "labelOverlap": false, "labelFont": "DejaVu Sans", "labelFontSize": 14.5, "labelColor": "#1a1a1a", "labelPadding": 2, "titleFont": "DejaVu Sans", "titleFontSize": 14.5, "titleFontWeight": "normal", "titleColor": "#1a1a1a", "titlePadding": 4}}
              }
            },
            {
              "data": {"name": "rnaSum"},
              "mark": {"type": "tick", "orient": "horizontal", "color": "#888888", "size": 17, "thickness": 1.5},
              "encoding": {
                "x": {"field": "p", "type": "quantitative", "scale": {"domain": [-0.5, 2.5], "nice": false, "zero": false},
                  "axis": {"values": [0, 1, 2], "labelExpr": "datum.value === 0 ? 'WT' : datum.value === 1 ? 'E1' : 'E2'", "title": null, "tickSize": 3.5, "tickWidth": 0.8, "tickColor": "#333333", "domain": false, "grid": false, "labelOverlap": false, "labelFont": "DejaVu Sans", "labelFontSize": 14.5, "labelColor": "#1a1a1a", "labelPadding": 2}},
                "y": {"field": "hi", "type": "quantitative", "scale": {"domain": [0, 400], "nice": false, "zero": false},
                  "axis": {"values": [0, 100, 200, 300, 400], "title": "Kd (nM)", "tickSize": 3.5, "tickWidth": 0.8, "tickColor": "#333333", "domain": false, "grid": false, "labelOverlap": false, "labelFont": "DejaVu Sans", "labelFontSize": 14.5, "labelColor": "#1a1a1a", "labelPadding": 2, "titleFont": "DejaVu Sans", "titleFontSize": 14.5, "titleFontWeight": "normal", "titleColor": "#1a1a1a", "titlePadding": 4}}
              }
            },
            {
              "data": {"name": "rnaPts"},
              "mark": {"type": "circle", "size": 28, "opacity": 1},
              "encoding": {
                "x": {"field": "p", "type": "quantitative", "scale": {"domain": [-0.5, 2.5], "nice": false, "zero": false},
                  "axis": {"values": [0, 1, 2], "labelExpr": "datum.value === 0 ? 'WT' : datum.value === 1 ? 'E1' : 'E2'", "title": null, "tickSize": 3.5, "tickWidth": 0.8, "tickColor": "#333333", "domain": false, "grid": false, "labelOverlap": false, "labelFont": "DejaVu Sans", "labelFontSize": 14.5, "labelColor": "#1a1a1a", "labelPadding": 2}},
                "y": {"field": "v", "type": "quantitative", "scale": {"domain": [0, 400], "nice": false, "zero": false},
                  "axis": {"values": [0, 100, 200, 300, 400], "title": "Kd (nM)", "tickSize": 3.5, "tickWidth": 0.8, "tickColor": "#333333", "domain": false, "grid": false, "labelOverlap": false, "labelFont": "DejaVu Sans", "labelFontSize": 14.5, "labelColor": "#1a1a1a", "labelPadding": 2, "titleFont": "DejaVu Sans", "titleFontSize": 14.5, "titleFontWeight": "normal", "titleColor": "#1a1a1a", "titlePadding": 4}},
                "color": {"field": "g", "type": "nominal", "scale": {"domain": ["WT", "E1", "E2"], "range": ["#000000", "#8b4f22", "#f79444"]}, "legend": null}
              }
            },
            {
              "data": {"name": "rnaSum"},
              "mark": {"type": "circle", "size": 55, "opacity": 1, "color": "#888888"},
              "encoding": {
                "x": {"field": "p", "type": "quantitative", "scale": {"domain": [-0.5, 2.5], "nice": false, "zero": false},
                  "axis": {"values": [0, 1, 2], "labelExpr": "datum.value === 0 ? 'WT' : datum.value === 1 ? 'E1' : 'E2'", "title": null, "tickSize": 3.5, "tickWidth": 0.8, "tickColor": "#333333", "domain": false, "grid": false, "labelOverlap": false, "labelFont": "DejaVu Sans", "labelFontSize": 14.5, "labelColor": "#1a1a1a", "labelPadding": 2}},
                "y": {"field": "mean", "type": "quantitative", "scale": {"domain": [0, 400], "nice": false, "zero": false},
                  "axis": {"values": [0, 100, 200, 300, 400], "title": "Kd (nM)", "tickSize": 3.5, "tickWidth": 0.8, "tickColor": "#333333", "domain": false, "grid": false, "labelOverlap": false, "labelFont": "DejaVu Sans", "labelFontSize": 14.5, "labelColor": "#1a1a1a", "labelPadding": 2, "titleFont": "DejaVu Sans", "titleFontSize": 14.5, "titleFontWeight": "normal", "titleColor": "#1a1a1a", "titlePadding": 4}}
              }
            }
          ]
        }
      ]
    }
  ]
}
